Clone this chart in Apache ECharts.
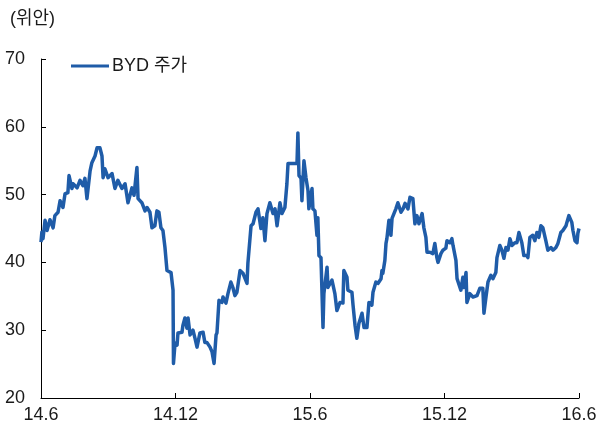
<!DOCTYPE html>
<html>
<head>
<meta charset="utf-8">
<script src="https://cdn.jsdelivr.net/npm/echarts@6/dist/echarts.min.js"></script>
<style>
html,body{margin:0;padding:0;background:#fff;}
#c{width:600px;height:430px;}
</style>
</head>
<body>
<div id="c"></div>
<script>
// Months elapsed since June 2014
var months = [0.00,0.04,0.09,0.18,0.27,0.40,0.54,0.62,0.76,0.85,0.98,1.07,1.20,1.25,1.38,1.43,1.61,1.74,1.87,1.96,2.05,2.19,2.27,2.41,2.50,2.63,2.72,2.77,2.85,2.99,3.17,3.30,3.43,3.61,3.75,3.88,4.06,4.15,4.28,4.33,4.50,4.64,4.73,4.86,4.95,5.08,5.17,5.26,5.35,5.44,5.53,5.62,5.80,5.89,5.91,5.98,6.07,6.11,6.29,6.33,6.42,6.51,6.56,6.65,6.78,6.87,6.96,7.09,7.23,7.31,7.40,7.54,7.63,7.72,7.81,7.85,7.94,8.07,8.12,8.25,8.34,8.47,8.56,8.65,8.74,8.88,9.01,9.19,9.23,9.37,9.46,9.59,9.68,9.81,9.90,9.99,10.08,10.21,10.35,10.44,10.53,10.66,10.75,10.88,10.97,11.02,11.42,11.46,11.51,11.60,11.64,11.73,11.82,11.91,11.95,12.09,12.13,12.22,12.31,12.35,12.40,12.49,12.58,12.62,12.76,12.80,12.98,13.11,13.20,13.34,13.47,13.51,13.65,13.69,13.87,13.92,14.01,14.09,14.18,14.32,14.41,14.54,14.63,14.76,14.81,14.94,15.03,15.17,15.21,15.25,15.34,15.39,15.43,15.52,15.61,15.66,15.74,15.83,15.92,16.06,16.15,16.24,16.37,16.46,16.59,16.68,16.77,16.86,17.00,17.08,17.17,17.22,17.35,17.48,17.57,17.66,17.71,17.84,17.93,18.06,18.11,18.24,18.33,18.38,18.51,18.56,18.64,18.73,18.82,18.87,18.96,19.00,19.13,19.27,19.45,19.58,19.71,19.76,19.85,19.94,20.07,20.16,20.29,20.34,20.47,20.56,20.65,20.74,20.83,20.92,21.01,21.14,21.23,21.32,21.45,21.54,21.68,21.72,21.81,21.94,22.03,22.12,22.21,22.30,22.39,22.52,22.61,22.75,22.84,22.97,23.06,23.19,23.28,23.42,23.46,23.55,23.68,23.73,23.82,23.91,23.95,24.00];
// BYD share price (CNY)
var prices = [43.0,44.5,43.5,46.2,44.7,46.3,45.1,46.9,47.4,49.1,48.1,50.1,50.3,52.8,50.9,51.6,51.0,52.1,51.3,52.4,49.4,53.5,54.7,55.7,56.9,56.9,55.7,52.5,53.8,52.5,53.1,50.9,52.1,50.9,51.6,48.8,51.0,49.9,54.0,49.4,48.8,47.6,48.1,47.4,45.1,45.4,47.6,47.4,45.1,44.7,42.2,38.8,38.5,35.9,25.1,28.1,27.8,29.6,29.7,30.7,31.8,30.3,31.8,29.3,30.0,28.8,27.5,29.6,29.7,28.2,28.2,27.5,26.8,25.1,29.3,29.6,34.4,34.1,34.9,34.0,35.4,37.1,36.3,35.1,35.6,38.8,38.4,36.9,39.9,45.4,45.7,47.4,47.9,45.0,46.6,43.2,47.2,48.8,47.2,47.9,45.4,48.8,47.2,48.1,51.6,54.6,54.6,59.1,52.8,52.4,49.1,55.0,52.5,50.6,47.9,50.9,47.9,47.6,44.0,46.6,41.0,40.7,30.4,35.4,39.3,36.3,37.4,35.4,32.9,34.1,34.0,38.8,37.8,35.9,35.6,33.7,30.7,28.8,31.0,32.5,30.4,30.4,34.1,33.7,35.6,37.1,36.9,37.6,38.8,38.4,40.3,42.8,43.5,46.2,44.0,46.5,46.6,47.9,48.8,47.4,47.9,48.7,47.9,49.6,49.4,45.7,46.9,45.7,47.2,45.1,43.7,41.5,41.5,41.3,42.8,40.7,40.0,41.3,41.8,42.1,43.2,42.9,43.5,42.5,40.3,37.6,37.4,35.9,37.8,36.3,38.5,34.1,35.4,34.9,35.1,36.2,36.2,32.5,34.9,37.1,38.1,37.6,38.5,40.7,42.5,41.8,40.6,42.2,41.8,43.5,42.5,42.9,42.9,44.4,42.9,41.0,41.0,40.7,43.7,44.0,43.2,44.4,43.7,45.4,45.1,43.2,41.8,42.2,41.8,42.2,42.8,44.4,44.7,45.4,45.9,46.9,45.9,44.7,43.2,42.9,44.3,45.0];
var xTickLabels = ['14.6','14.12','15.6','15.12','16.6'];
var seriesName = 'BYD 주가';
var unitLabel = '(위안)';

var data = months.map(function(m, i){ return [m, prices[i]]; });
var FONT = '"Liberation Sans", "Noto Sans CJK KR", sans-serif';
var chart = echarts.init(document.getElementById('c'), null, {renderer:'canvas'});
chart.setOption({
  animation: false,
  backgroundColor: '#fff',
  title: {
    text: unitLabel, left: 5, top: 5,
    textStyle: {fontSize: 18, fontWeight: 'normal', color: '#1a1a1a', fontFamily: FONT}
  },
  legend: {
    left: 66, top: 52,
    icon: 'rect', itemWidth: 38, itemHeight: 3, itemGap: 10,
    textStyle: {fontSize: 18, color: '#1a1a1a', fontFamily: FONT, padding: [0,0,0,-2]},
    data: [seriesName]
  },
  grid: {left: 41, right: 21, top: 59, bottom: 32, containLabel: false},
  xAxis: {
    type: 'value', min: 0, max: 24, interval: 6,
    axisLine: {show: true, lineStyle: {color: '#000', width: 1}},
    axisTick: {show: true, inside: true, length: 5, lineStyle: {color: '#000'}},
    splitLine: {show: false},
    axisLabel: {
      fontSize: 18, color: '#1a1a1a', fontFamily: FONT, margin: 8,
      formatter: function(v){ return xTickLabels[Math.round(v/6)]; }
    }
  },
  yAxis: {
    type: 'value', min: 20, max: 70, interval: 10,
    axisLine: {show: true, lineStyle: {color: '#000', width: 1}},
    axisTick: {show: true, inside: true, length: 5, lineStyle: {color: '#000'}},
    splitLine: {show: false},
    axisLabel: {fontSize: 18, color: '#1a1a1a', fontFamily: FONT, margin: 16}
  },
  series: [{
    name: seriesName, type: 'line', data: data,
    showSymbol: false, symbol: 'none',
    lineStyle: {color: '#1f5ca8', width: 3.5, join: 'round'},
    itemStyle: {color: '#1f5ca8'}
  }]
});
</script>
</body>
</html>
